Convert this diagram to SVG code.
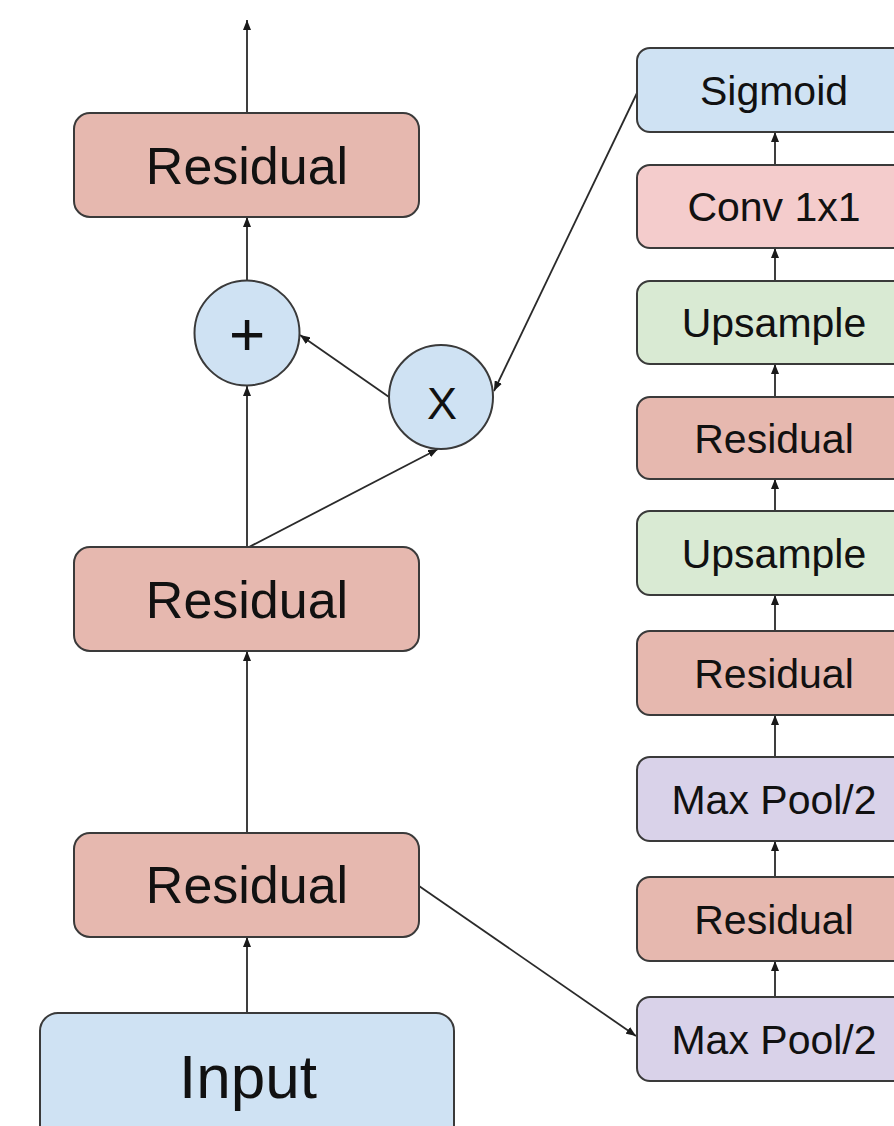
<svg xmlns="http://www.w3.org/2000/svg" width="894" height="1126" viewBox="0 0 894 1126">
  <style>
    .box { stroke: #3a3a3a; stroke-width: 2; }
    .res { fill: #e6b8af; }
    .blue { fill: #cfe2f3; }
    .conv { fill: #f4cccc; }
    .up { fill: #d9ead3; }
    .pool { fill: #d9d2e9; }
    .lbl { font-family: "Liberation Sans", Arial, sans-serif; fill: #111; text-anchor: middle; }
    .big { font-size: 52px; }
    .small { font-size: 41px; }
    .edge { stroke: #2a2a2a; stroke-width: 1.8; fill: none; marker-end: url(#arrow); }
  </style>
  <defs>
    <marker id="arrow" markerUnits="userSpaceOnUse" markerWidth="10" markerHeight="8" refX="10" refY="4" orient="auto">
      <path d="M0,0 L10,4 L0,8 z" fill="#1a1a1a"/>
    </marker>
  </defs>
  <rect width="894" height="1126" fill="#ffffff"/>

  <!-- connectors -->
  <g id="connectors">
    <line class="edge" x1="247" y1="113" x2="247" y2="20"/>
    <line class="edge" x1="247" y1="280" x2="247" y2="217"/>
    <line class="edge" x1="247" y1="547" x2="247" y2="386"/>
    <line class="edge" x1="249" y1="547" x2="438" y2="449"/>
    <line class="edge" x1="389" y1="397" x2="300" y2="335"/>
    <line class="edge" x1="637" y1="93" x2="494" y2="391"/>
    <line class="edge" x1="247" y1="833" x2="247" y2="651"/>
    <line class="edge" x1="247" y1="1013" x2="247" y2="937"/>
    <line class="edge" x1="419" y1="886" x2="636" y2="1036"/>
    <line class="edge" x1="775" y1="165" x2="775" y2="132"/>
    <line class="edge" x1="775" y1="281" x2="775" y2="248"/>
    <line class="edge" x1="775" y1="397" x2="775" y2="364"/>
    <line class="edge" x1="775" y1="511" x2="775" y2="479"/>
    <line class="edge" x1="775" y1="631" x2="775" y2="595"/>
    <line class="edge" x1="775" y1="757" x2="775" y2="715"/>
    <line class="edge" x1="775" y1="877" x2="775" y2="841"/>
    <line class="edge" x1="775" y1="997" x2="775" y2="961"/>
  </g>

  <!-- main trunk -->
  <g id="res-top">
    <rect class="box res" x="74" y="113" width="345" height="104" rx="16"/>
    <text class="lbl big" x="247" y="184">Residual</text>
  </g>
  <g id="plus">
    <circle class="box blue" cx="247" cy="333" r="52.5"/>
    <text class="lbl" x="247" y="355" font-size="62">+</text>
  </g>
  <g id="mult">
    <circle class="box blue" cx="441" cy="397" r="52"/>
    <text class="lbl" x="442" y="419" font-size="45">X</text>
  </g>
  <g id="res-mid">
    <rect class="box res" x="74" y="547" width="345" height="104" rx="16"/>
    <text class="lbl big" x="247" y="618">Residual</text>
  </g>
  <g id="res-low">
    <rect class="box res" x="74" y="833" width="345" height="104" rx="16"/>
    <text class="lbl big" x="247" y="903">Residual</text>
  </g>
  <g id="input">
    <rect class="box blue" x="40" y="1013" width="414" height="140" rx="18"/>
    <text class="lbl" x="248" y="1098" font-size="62">Input</text>
  </g>

  <!-- mask branch -->
  <g id="sigmoid">
    <rect class="box blue" x="637" y="48" width="290" height="84" rx="13"/>
    <text class="lbl small" x="774" y="105">Sigmoid</text>
  </g>
  <g id="conv">
    <rect class="box conv" x="637" y="165" width="290" height="83" rx="13"/>
    <text class="lbl small" x="774" y="221">Conv 1x1</text>
  </g>
  <g id="up-2">
    <rect class="box up" x="637" y="281" width="290" height="83" rx="13"/>
    <text class="lbl small" x="774" y="337">Upsample</text>
  </g>
  <g id="res-b3">
    <rect class="box res" x="637" y="397" width="290" height="82" rx="13"/>
    <text class="lbl small" x="774" y="453">Residual</text>
  </g>
  <g id="up-1">
    <rect class="box up" x="637" y="511" width="290" height="84" rx="13"/>
    <text class="lbl small" x="774" y="568">Upsample</text>
  </g>
  <g id="res-b2">
    <rect class="box res" x="637" y="631" width="290" height="84" rx="13"/>
    <text class="lbl small" x="774" y="688">Residual</text>
  </g>
  <g id="pool-2">
    <rect class="box pool" x="637" y="757" width="290" height="84" rx="13"/>
    <text class="lbl small" x="774" y="814">Max Pool/2</text>
  </g>
  <g id="res-b1">
    <rect class="box res" x="637" y="877" width="290" height="84" rx="13"/>
    <text class="lbl small" x="774" y="934">Residual</text>
  </g>
  <g id="pool-1">
    <rect class="box pool" x="637" y="997" width="290" height="84" rx="13"/>
    <text class="lbl small" x="774" y="1054">Max Pool/2</text>
  </g>
</svg>
